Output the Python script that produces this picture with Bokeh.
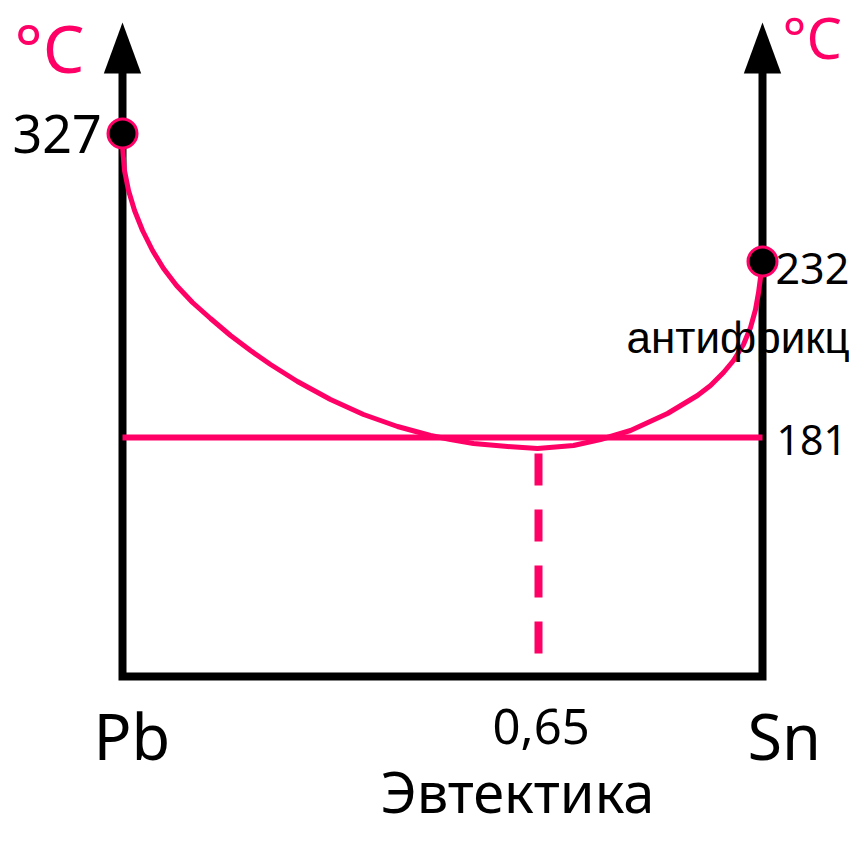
from bokeh.plotting import figure
from bokeh.models import Range1d
from bokeh.core.properties import value
from bokeh.embed import file_html
from bokeh.resources import INLINE

# ---- data (schematic Pb–Sn phase diagram) ----
components = ["Pb", "Sn"]
comp_x = [0.0, 1.0]
melting_points = [327, 232]
eutectic_temp = 181
eutectic_x = 0.65
axis_unit = "°C"
eutectic_name = "Эвтектика"
alloy_note = "антифрикционные"

# schematic heights (diagram is not drawn to scale)
melt_level = [714, 586]
eutectic_level = 410
base_level = 171
arrow_level = 825

# liquidus curve (composition, schematic height)
liq_x = [0.0, 0.0005, 0.0031, 0.0094, 0.0188, 0.0313, 0.0469, 0.0641,
         0.0844, 0.1094, 0.1375, 0.1688, 0.2, 0.2313, 0.2734, 0.325,
         0.3766, 0.4297, 0.4813, 0.5125, 0.5484, 0.6016, 0.6484, 0.7047,
         0.7469, 0.7938, 0.8516, 0.8984, 0.9188, 0.9391, 0.9547, 0.9703,
         0.9813, 0.9891, 0.9938, 0.9969, 1.0]
liq_y = [714, 697, 677, 657, 637, 617, 597, 579,
         562, 545, 529, 512, 497, 483, 466, 448,
         433, 421, 412, 408, 404, 401, 399, 402,
         408, 417, 434, 452, 462, 475, 487, 503,
         520, 538, 555, 570, 586]

PINK = "#FF0066"
X0, SX = 122.0, 640.0
W, H = 849, 831


def xd(px):
    return (px - X0) / SX


def yd(py):
    return 847 - py


p = figure(width=W, height=H, output_backend="svg", toolbar_location=None,
           x_range=Range1d(xd(0), xd(W)), y_range=Range1d(yd(H), yd(0)),
           x_axis_type=None, y_axis_type=None, min_border=0,
           outline_line_color=None, background_fill_color="white")
p.grid.visible = False

# axes frame
p.line(x=[comp_x[0], comp_x[0], comp_x[1], comp_x[1]],
       y=[yd(70), base_level, base_level, yd(70)],
       line_width=8, line_color="black", line_join="miter")
hw = 18.7 / SX
p.patches(xs=[[c, c - hw, c + hw] for c in comp_x],
          ys=[[arrow_level, yd(73), yd(73)] for _ in comp_x],
          fill_color="black", line_color=None)

# eutectic horizontal
p.line(x=comp_x, y=[eutectic_level, eutectic_level], line_width=6,
       line_color=PINK)
# dashed eutectic composition
p.line(x=[eutectic_x, eutectic_x], y=[yd(453), yd(653)], line_width=8,
       line_color=PINK, line_dash="32 24", line_cap="butt")
# liquidus
p.line(x=liq_x, y=liq_y, line_width=5, line_color=PINK, line_join="round")
# melting points
p.scatter(x=comp_x, y=melt_level, size=29, fill_color="black",
          line_color=PINK, line_width=3)

BASE_FIX = 0.42  # renderer places the alphabetic baseline ~0.42em low


def txt(s, X, Y, size, color="black", font="Noto Sans"):
    p.text(x=[xd(X)], y=[yd(Y - BASE_FIX * size)], text=[s],
           text_font=value(font), text_font_size=value(f"{size}px"),
           text_color=color, text_align="left", text_baseline="alphabetic")


txt(axis_unit, 14, 74, 66, PINK)
txt(axis_unit, 782, 60, 56, PINK)
txt(str(melting_points[0]), 12, 155, 52)
txt(str(melting_points[1]), 775, 286, 43)
txt(str(eutectic_temp), 776, 457, 41)
txt(alloy_note, 626, 355, 44, font="Liberation Sans")
txt(components[0], 93, 761, 63)
txt(components[1], 747, 761, 63)
txt(f"{eutectic_x:.2f}".replace(".", ","), 492, 747, 49)
txt(eutectic_name, 380, 814, 56)

open("out.html", "w").write(file_html(p, INLINE))
